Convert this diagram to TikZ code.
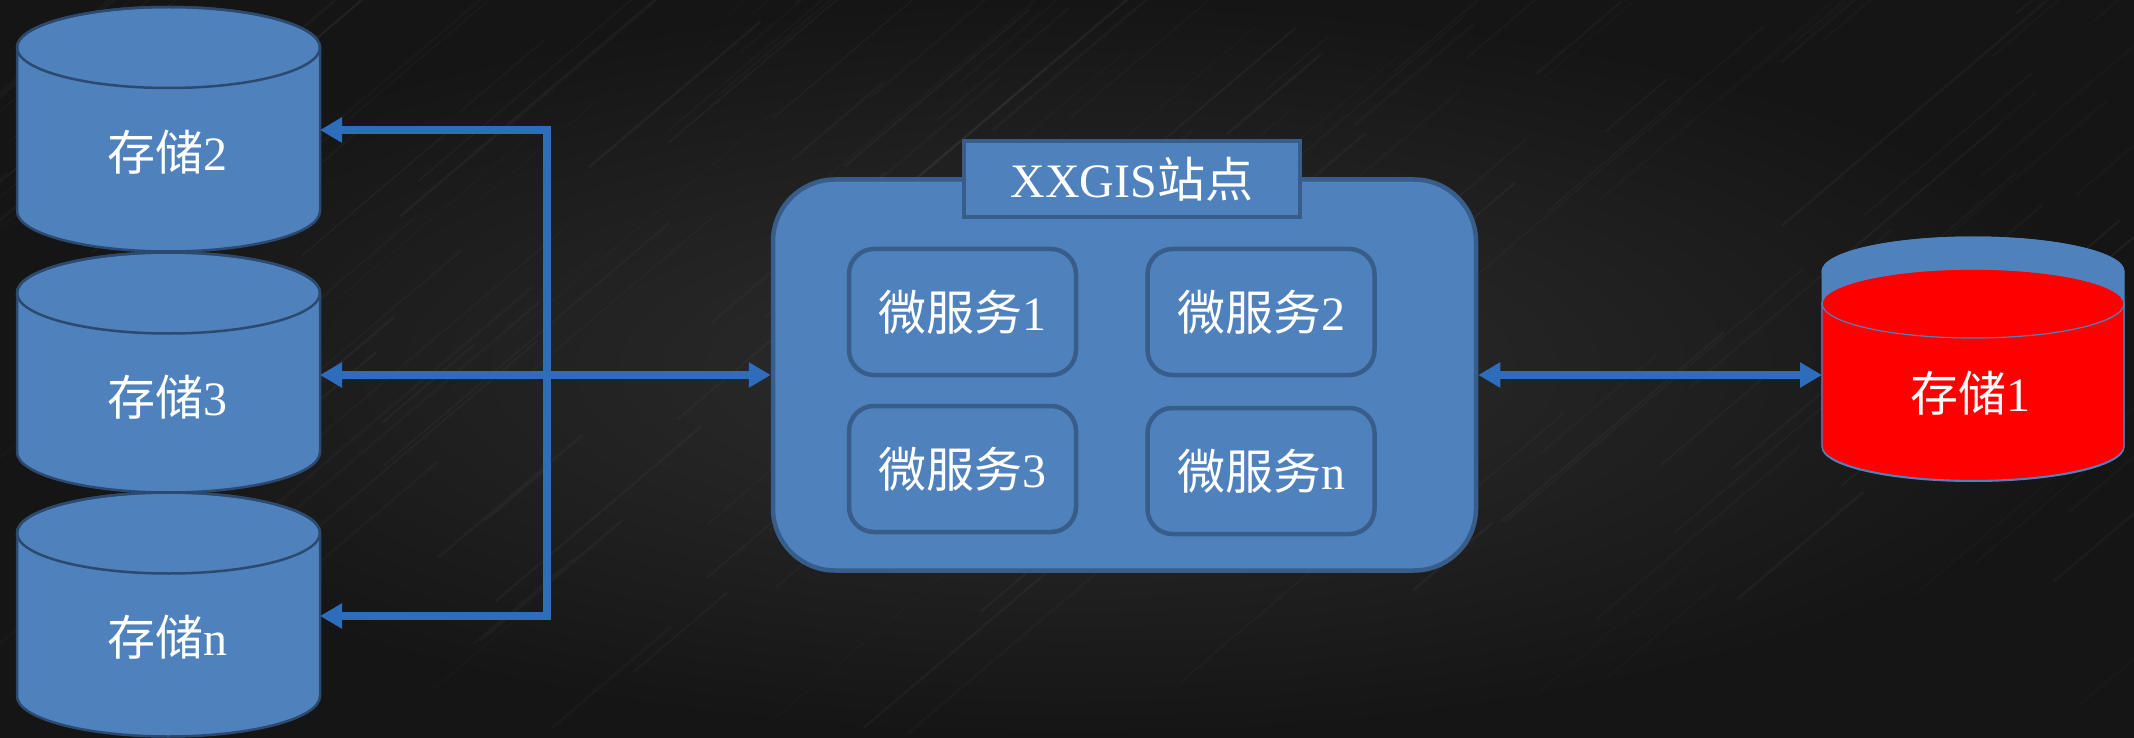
\documentclass[tikz,border=0pt]{standalone}
\usepackage{fontspec}
\usepackage{graphicx}
\setmainfont{Liberation Serif}
\newfontfamily\cjk{Noto Sans CJK SC}
\usetikzlibrary{arrows.meta}
\definecolor{bgdark}{HTML}{151515}
\definecolor{bglight}{HTML}{2E2E2E}
\definecolor{pblue}{HTML}{4F81BD}
\definecolor{pedge}{HTML}{385D8A}
\definecolor{cedge}{HTML}{2C4A70}
\definecolor{arrblue}{HTML}{2E6CBC}
\definecolor{pred}{HTML}{FF0000}
\newcommand\zh[1]{{\cjk #1}}
% cx, top-ellipse cy, bottom-ellipse cy, half width, ry, fill, edge, edge width
\newcommand\dbcan[8]{%
  \filldraw[fill=#6, draw=#7, line width=#8] (#1-#4,#2) -- (#1-#4,#3)
    arc[start angle=180,end angle=360,x radius=#4pt,y radius=#5pt] -- (#1+#4,#2)
    arc[start angle=0,end angle=180,x radius=#4pt,y radius=#5pt] -- cycle;
  \draw[draw=#7, line width=#8] (#1,#2) ellipse[x radius=#4pt, y radius=#5pt];
}
\tikzset{
  anchorbox/.style={inner sep=0pt, outer sep=0pt, draw=none},
  txt/.style={inner sep=0pt, text=white, font=\fontsize{48}{50}\selectfont},
  boxstyle/.style={draw=pedge, line width=4.5pt, fill=pblue, inner sep=0pt, text=white, font=\fontsize{48}{50}\selectfont},
  msbox/.style={boxstyle, rounded corners=25pt, minimum width=227pt, minimum height=126pt},
  conn/.style={draw=arrblue, line width=7.5pt},
  tip/.tip={Triangle[length=22pt, width=24pt]}
}
\begin{document}
\begin{tikzpicture}[x=1pt,y=-1pt]
\shade[inner color=bglight, outer color=bgdark] (0,0) rectangle (2134,738);
\useasboundingbox (0,0) rectangle (2134,738);
% brushed texture
\begin{scope}
\clip (0,0) rectangle (2134,738);
\pgfmathsetseed{7}
\foreach \i in {1,...,220}{
  \pgfmathsetmacro\xo{rnd*3000-900}
  \pgfmathsetmacro\yo{rnd*738}
  \pgfmathsetmacro\ln{60+rnd*260}
  \pgfmathsetmacro\op{0.012+rnd*0.025}
  \pgfmathsetmacro\lw{0.8+rnd*2.2}
  \draw[white, opacity=\op, line width=\lw pt] (\xo,\yo) -- ++(\ln,-0.85*\ln);
}
\end{scope}

% left storage cylinders
\dbcan{168.5}{47.5}{211}{151.5}{40.5}{pblue}{cedge}{2.5pt}
\dbcan{168.5}{293}{452}{151.5}{40.5}{pblue}{cedge}{2.5pt}
\dbcan{168.5}{533}{696}{151.5}{40.5}{pblue}{cedge}{2.5pt}
\node[anchorbox, minimum width=303pt, minimum height=243pt] (s2) at (168.5,130) {};
\node[anchorbox, minimum width=303pt, minimum height=243pt] (s3) at (168.5,375) {};
\node[anchorbox, minimum width=303pt, minimum height=243pt] (sn) at (168.5,616) {};
\node[txt] (t2) at (167.5,152) {\zh{存储}2};
\node[txt] (t3) at (167.5,397) {\zh{存储}3};
\node[txt] (tn) at (167.5,637) {\zh{存储}n};

% right red storage
\dbcan{1973}{271.5}{447}{151}{34.5}{pblue}{pblue}{1pt}
\dbcan{1973}{303.5}{446}{151}{34.5}{pred}{pblue}{1.2pt}
\node[anchorbox, minimum width=302pt, minimum height=200pt] (s1) at (1973,375) {};
\node[txt] (t1) at (1970,393) {\zh{存储}1};

% site box
\node[boxstyle, rounded corners=62pt, minimum width=703pt, minimum height=391pt] (site) at (1124.5,375) {};
\node[boxstyle, minimum width=336pt, minimum height=76pt] (title) at (1132,179) {XXGIS\zh{站点}};
\node[msbox] (ms1) at (962.5,312) {\zh{微服务}1};
\node[msbox] (ms2) at (1261,312) {\zh{微服务}2};
\node[msbox] (ms3) at (962.5,469) {\zh{微服务}3};
\node[msbox] (msn) at (1261,471) {\zh{微服务}n};

% connectors
\coordinate (j) at (547,375);
\draw[conn, -tip] (j) |- (s2.east);
\draw[conn, -tip] (j) |- (sn.east);
\draw[conn, -tip] (j) -- (s3.east);
\draw[conn, -tip] (j) -- (site.west);
\draw[conn, tip-tip] (site.east) -- (s1.west);
\end{tikzpicture}
\end{document}
